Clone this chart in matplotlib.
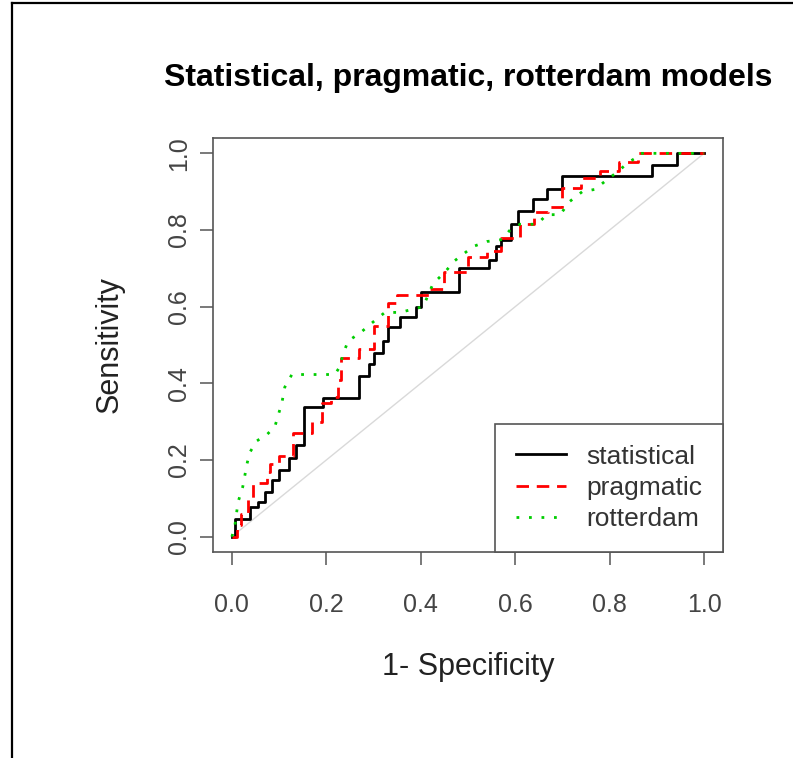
import numpy as np
import matplotlib.pyplot as plt
from matplotlib.lines import Line2D

plt.rcParams['font.family'] = ['Liberation Sans', 'DejaVu Sans']

# ROC curves (1 - specificity, sensitivity)
stat_fpr = [0.000, 0.006, 0.038, 0.055, 0.070, 0.085, 0.100, 0.120, 0.135, 0.153, 0.193,
            0.270, 0.290, 0.300, 0.320, 0.330, 0.355, 0.390, 0.400, 0.480, 0.545, 0.560,
            0.570, 0.590, 0.605, 0.638, 0.667, 0.700, 0.890, 0.943, 1.000]
stat_tpr = [0.000, 0.045, 0.078, 0.090, 0.117, 0.149, 0.175, 0.206, 0.240, 0.337, 0.363,
            0.418, 0.450, 0.480, 0.510, 0.546, 0.574, 0.600, 0.637, 0.700, 0.723, 0.757,
            0.775, 0.815, 0.849, 0.880, 0.906, 0.940, 0.970, 1.000, 1.000]

prag_fpr = [0.000, 0.010, 0.020, 0.035, 0.045, 0.075, 0.080, 0.100, 0.130, 0.170, 0.190,
            0.210, 0.225, 0.230, 0.270, 0.300, 0.330, 0.350, 0.420, 0.450, 0.500, 0.540,
            0.570, 0.610, 0.640, 0.670, 0.700, 0.740, 0.780, 0.820, 0.860, 1.000]
prag_tpr = [0.000, 0.030, 0.060, 0.100, 0.140, 0.170, 0.190, 0.210, 0.270, 0.300, 0.350,
            0.365, 0.410, 0.467, 0.490, 0.550, 0.610, 0.630, 0.645, 0.690, 0.730, 0.745,
            0.780, 0.815, 0.846, 0.860, 0.910, 0.935, 0.955, 0.978, 1.000, 1.000]

rott_fpr = [0.000, 0.006, 0.013, 0.023, 0.032, 0.038, 0.053, 0.074, 0.091, 0.106, 0.112,
            0.127, 0.218, 0.229, 0.235, 0.246, 0.275, 0.299, 0.324, 0.356, 0.405, 0.426,
            0.451, 0.472, 0.511, 0.540, 0.572, 0.589, 0.610, 0.646, 0.667, 0.695, 0.716,
            0.742, 0.769, 0.790, 0.818, 0.839, 0.858, 0.864, 1.000]
rott_tpr = [0.000, 0.026, 0.090, 0.130, 0.190, 0.220, 0.250, 0.266, 0.287, 0.350, 0.390,
            0.423, 0.423, 0.444, 0.475, 0.510, 0.535, 0.560, 0.585, 0.585, 0.600, 0.660,
            0.690, 0.720, 0.757, 0.770, 0.775, 0.800, 0.815, 0.815, 0.840, 0.840, 0.875,
            0.900, 0.906, 0.927, 0.953, 0.976, 0.990, 1.000, 1.000]

ticks = [0.0, 0.2, 0.4, 0.6, 0.8, 1.0]
tick_labels = ['0.0', '0.2', '0.4', '0.6', '0.8', '1.0']

W, H = 793, 758
fig = plt.figure(figsize=(W / 100, H / 100), dpi=100)
ax = fig.add_axes([213 / W, 1 - 552 / H, 510 / W, 414 / H])

ax.plot([0, 1], [0, 1], color='#d9d9d9', lw=1.0, zorder=1)
ax.plot(stat_fpr, stat_tpr, drawstyle='steps-post', color='black', lw=2.0,
        label='statistical', zorder=3)
ax.plot(prag_fpr, prag_tpr, drawstyle='steps-post', color='#ff0000', lw=2.0,
        dashes=(4.5, 2.8), label='pragmatic', zorder=4)
ax.plot(rott_fpr, rott_tpr, color='#00cd00', lw=2.0, dashes=(1, 3.5),
        label='rotterdam', zorder=5)

ax.set_xlim(-0.04, 1.04)
ax.set_ylim(-0.04, 1.04)
ax.set_xticks(ticks)
ax.set_xticklabels(tick_labels)
ax.set_yticks(ticks)
ax.set_yticklabels(tick_labels, rotation=90, va='center')
for s in ax.spines.values():
    s.set_color('#555555')
    s.set_linewidth(1.2)
ax.tick_params(direction='out', length=9.5, width=1.1, color='#555555',
               labelsize=18, labelcolor='#444444')
ax.tick_params(axis='x', pad=20)
ax.tick_params(axis='y', pad=6)

leg = ax.legend(loc='lower right', borderaxespad=0, fancybox=False,
                edgecolor='#555555', framealpha=1, fontsize=19,
                handlelength=1.9, handletextpad=0.75, borderpad=0.8,
                labelspacing=0.27)
leg.get_frame().set_linewidth(1.2)
for t in leg.get_texts():
    t.set_color('#333333')

fig.text(468 / W, 1 - 86 / H, 'Statistical, pragmatic, rotterdam models',
         ha='center', va='baseline', fontsize=23, fontweight='bold')
fig.text(468 / W, 1 - 675 / H, '1- Specificity', ha='center', va='baseline',
         fontsize=22, color='#222222')
fig.text(110 / W, 1 - 345 / H, 'Sensitivity', ha='center', va='center',
         rotation=90, fontsize=22, color='#222222')

# outer frame (left and top edges only)
fig.add_artist(Line2D([12 / W, 12 / W], [0, 1 - 3 / H], color='black', lw=1.6))
fig.add_artist(Line2D([12 / W, 1], [1 - 3 / H, 1 - 3 / H], color='black', lw=1.6))

fig.savefig('out.png', dpi=100)
